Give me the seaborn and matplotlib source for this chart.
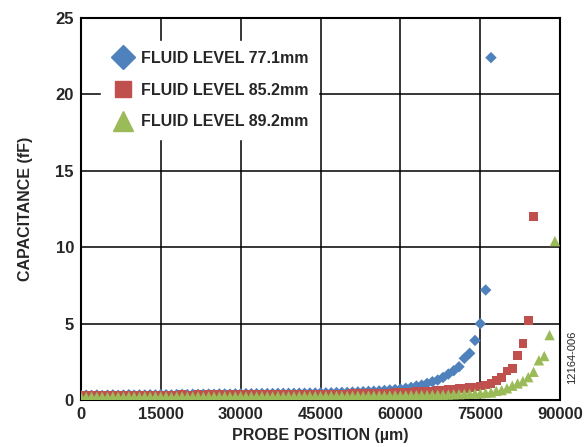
import numpy as np
import pandas as pd
import seaborn as sns
import matplotlib.pyplot as plt
from matplotlib.lines import Line2D

# probe positions (µm), one reading every 1000 µm
pos_771 = np.arange(0, 78000, 1000)
pos_852 = np.arange(0, 86000, 1000)
pos_892 = np.arange(0, 90000, 1000)

cap_771 = [
    0.30, 0.32, 0.31, 0.33, 0.30, 0.32, 0.34, 0.31, 0.33, 0.35,
    0.32, 0.34, 0.33, 0.35, 0.34, 0.36, 0.35, 0.34, 0.36, 0.37,
    0.36, 0.38, 0.37, 0.38, 0.39, 0.38, 0.40, 0.40, 0.39, 0.41,
    0.41, 0.42, 0.42, 0.42, 0.43, 0.43, 0.43, 0.44, 0.44, 0.44,
    0.44, 0.45, 0.45, 0.46, 0.46, 0.47, 0.47, 0.48, 0.49, 0.50,
    0.50, 0.52, 0.53, 0.55, 0.57, 0.58, 0.60, 0.63, 0.66, 0.69,
    0.72, 0.77, 0.83, 0.92, 0.98, 1.09, 1.20, 1.31, 1.48, 1.70,
    1.92, 2.18, 2.73, 3.06, 3.90, 5.00, 7.20, 22.40,
]
cap_852 = [
    0.30, 0.28, 0.31, 0.29, 0.30, 0.32, 0.29, 0.31, 0.30, 0.32,
    0.31, 0.30, 0.32, 0.31, 0.33, 0.31, 0.32, 0.33, 0.32, 0.34,
    0.33, 0.32, 0.34, 0.33, 0.34, 0.35, 0.34, 0.33, 0.35, 0.34,
    0.35, 0.36, 0.35, 0.34, 0.36, 0.35, 0.36, 0.37, 0.36, 0.37,
    0.37, 0.36, 0.38, 0.37, 0.38, 0.39, 0.38, 0.39, 0.40, 0.39,
    0.40, 0.41, 0.41, 0.42, 0.42, 0.43, 0.44, 0.45, 0.46, 0.48,
    0.50, 0.51, 0.53, 0.54, 0.56, 0.58, 0.60, 0.62, 0.65, 0.68,
    0.71, 0.74, 0.78, 0.82, 0.86, 0.92, 0.98, 1.09, 1.30, 1.50,
    1.90, 2.07, 2.90, 3.70, 5.20, 12.00,
]
cap_892 = [
    0.22, 0.20, 0.23, 0.21, 0.22, 0.20, 0.23, 0.22, 0.21, 0.23,
    0.22, 0.21, 0.23, 0.22, 0.24, 0.22, 0.23, 0.21, 0.23, 0.24,
    0.22, 0.23, 0.24, 0.22, 0.24, 0.23, 0.24, 0.25, 0.23, 0.24,
    0.25, 0.24, 0.25, 0.24, 0.26, 0.25, 0.24, 0.26, 0.25, 0.26,
    0.25, 0.26, 0.27, 0.26, 0.27, 0.26, 0.27, 0.28, 0.27, 0.28,
    0.27, 0.28, 0.29, 0.28, 0.29, 0.29, 0.30, 0.29, 0.30, 0.31,
    0.30, 0.31, 0.32, 0.32, 0.33, 0.33, 0.34, 0.35, 0.35, 0.36,
    0.38, 0.39, 0.40, 0.41, 0.43, 0.44, 0.47, 0.50, 0.60, 0.65,
    0.77, 0.94, 1.09, 1.24, 1.50, 1.85, 2.60, 2.88, 4.25, 10.40,
]

labels = ["FLUID LEVEL 77.1mm", "FLUID LEVEL 85.2mm", "FLUID LEVEL 89.2mm"]
colors = ["#4F81BD", "#C0504D", "#9BBB59"]
markers = ["D", "s", "^"]
marker_area = [34, 40, 56]

df = pd.concat([
    pd.DataFrame({"pos": pos_771, "cap": cap_771, "level": labels[0]}),
    pd.DataFrame({"pos": pos_852, "cap": cap_852, "level": labels[1]}),
    pd.DataFrame({"pos": pos_892, "cap": cap_892, "level": labels[2]}),
], ignore_index=True)

sns.set_style("white")
plt.rcParams["font.family"] = ["Liberation Sans", "DejaVu Sans"]

fig = plt.figure(figsize=(5.86, 4.47), dpi=100)
ax = fig.add_axes([0.138, 0.105, 0.818, 0.855])

sns.scatterplot(data=df, x="pos", y="cap", hue="level", style="level", size="level",
                palette=dict(zip(labels, colors)),
                markers=dict(zip(labels, markers)),
                sizes=dict(zip(labels, marker_area)),
                linewidth=0, legend=False, ax=ax, zorder=3)

ax.set_xlim(0, 90000)
ax.set_ylim(0, 25)
ax.set_xticks(range(0, 90001, 15000))
ax.set_yticks(range(0, 26, 5))
ax.grid(True, color="black", linewidth=1.1)
ax.tick_params(length=0, labelsize=12, pad=5)
for lbl in ax.get_xticklabels() + ax.get_yticklabels():
    lbl.set_fontweight("bold")
for sp in ax.spines.values():
    sp.set_color("black")
    sp.set_linewidth(1.5)

ax.set_xlabel("PROBE POSITION (µm)", fontsize=11.5, fontweight="bold", labelpad=4)
ax.set_ylabel("CAPACITANCE (fF)", fontsize=11.5, fontweight="bold", labelpad=16)

handles = [Line2D([], [], linestyle="none", marker=m, color=c, markersize=ms)
           for m, c, ms in zip(markers, colors, [12, 11, 14])]
leg = ax.legend(handles, labels, loc="upper left", bbox_to_anchor=(0.025, 0.96),
                frameon=True, facecolor="white", edgecolor="white", framealpha=1,
                fancybox=False, prop={"size": 11.5, "weight": "bold"},
                labelspacing=1.05, handletextpad=0.3, handlelength=1.6, borderpad=0.6)
leg.set_zorder(5)

fig.text(0.977, 0.2, "12164-006", rotation=90, fontsize=8, ha="center", va="center")

fig.savefig("out.png", dpi=100)
